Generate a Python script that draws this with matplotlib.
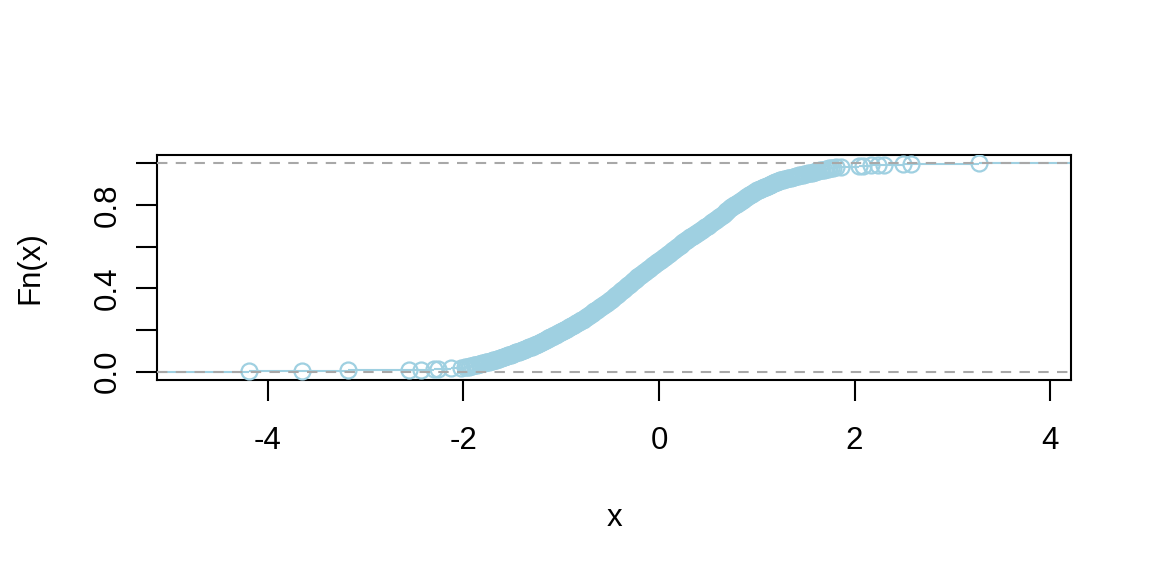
import numpy as np
import matplotlib.pyplot as plt

plt.rcParams['font.family'] = ['Liberation Sans', 'DejaVu Sans']

# sample values (sorted)
left_tail = [-4.19, -3.65, -3.18, -2.56, -2.43, -2.30, -2.26, -2.13, -2.02, -1.98]

lower_body = [
    -1.96, -1.94, -1.93, -1.91, -1.89, -1.88, -1.86, -1.84, -1.83, -1.81,
    -1.79, -1.77, -1.76, -1.74, -1.72,
    -1.71, -1.70, -1.68, -1.67, -1.66, -1.64, -1.63, -1.62, -1.60, -1.59,
    -1.58, -1.56, -1.55, -1.54, -1.53, -1.51, -1.50,
    -1.49, -1.48, -1.47, -1.46, -1.45, -1.43, -1.42, -1.41, -1.40, -1.39,
    -1.38, -1.37, -1.36, -1.35, -1.34, -1.33, -1.32, -1.30,
    -1.29, -1.28, -1.28, -1.27, -1.26, -1.25, -1.24, -1.23, -1.22, -1.21,
    -1.21, -1.20, -1.19, -1.18, -1.17, -1.16, -1.15, -1.15, -1.14, -1.13,
    -1.12, -1.11, -1.10, -1.09, -1.08, -1.08, -1.07, -1.06, -1.05, -1.04,
    -1.03, -1.03, -1.02, -1.01, -1.00,
    -0.99, -0.99, -0.98, -0.97, -0.96, -0.96, -0.95, -0.94, -0.93, -0.93,
    -0.92, -0.91, -0.90, -0.90, -0.89, -0.88, -0.88, -0.87, -0.86, -0.85,
    -0.85, -0.84, -0.83, -0.82, -0.82, -0.81, -0.80, -0.80, -0.79, -0.78,
    -0.77, -0.77, -0.76, -0.76, -0.75, -0.74, -0.74, -0.73, -0.72, -0.72,
    -0.71, -0.71, -0.70, -0.69, -0.69, -0.68, -0.67, -0.67, -0.66, -0.66,
    -0.65, -0.64, -0.64, -0.63, -0.62, -0.62, -0.61, -0.61, -0.60, -0.59,
    -0.59, -0.58, -0.57, -0.57, -0.56, -0.56, -0.55, -0.54, -0.54, -0.53,
    -0.52, -0.52, -0.51, -0.51, -0.50,
]

middle_body = [
    -0.50, -0.49, -0.49, -0.48, -0.48, -0.47, -0.47, -0.46, -0.46, -0.45,
    -0.45, -0.44, -0.44, -0.43, -0.43, -0.42, -0.42, -0.41, -0.41, -0.40,
    -0.40, -0.39, -0.39, -0.38, -0.38, -0.37, -0.37, -0.36, -0.36, -0.35,
    -0.35, -0.34, -0.34, -0.33, -0.33, -0.32, -0.32, -0.31, -0.31, -0.30,
    -0.30, -0.29, -0.29, -0.28, -0.28, -0.27, -0.27, -0.26, -0.26, -0.25,
    -0.24, -0.24, -0.23, -0.23, -0.22, -0.22, -0.21, -0.21, -0.20, -0.19,
    -0.19, -0.18, -0.18, -0.17, -0.17, -0.16, -0.16, -0.15, -0.14, -0.14,
    -0.13, -0.13, -0.12, -0.12, -0.11, -0.11, -0.10, -0.09, -0.09, -0.08,
    -0.08, -0.07, -0.07, -0.06, -0.06, -0.05, -0.04, -0.04, -0.03, -0.03,
    -0.02, -0.02, -0.01, -0.01, 0.00,
    0.01, 0.01, 0.02, 0.02, 0.03, 0.03, 0.04, 0.04, 0.05, 0.06,
    0.06, 0.07, 0.07, 0.08, 0.08, 0.09, 0.09, 0.10, 0.11, 0.11,
    0.12, 0.12, 0.13, 0.13, 0.14, 0.14, 0.15, 0.16, 0.16, 0.17,
    0.17, 0.18, 0.18, 0.19, 0.19, 0.20, 0.21, 0.21, 0.22, 0.22,
    0.23, 0.23, 0.24, 0.24, 0.25,
    0.26, 0.26, 0.27, 0.27, 0.28, 0.29, 0.29, 0.30, 0.31, 0.31,
    0.32, 0.32, 0.33, 0.34, 0.34, 0.35, 0.36, 0.36, 0.37, 0.37,
    0.38, 0.39, 0.39, 0.40, 0.41, 0.41, 0.42, 0.42, 0.43, 0.44,
    0.44, 0.45, 0.46, 0.46, 0.47, 0.47, 0.48, 0.49, 0.49, 0.50,
]

upper_body = [
    0.51, 0.51, 0.52, 0.52, 0.53, 0.53, 0.54, 0.54, 0.55, 0.56,
    0.56, 0.57, 0.57, 0.58, 0.58, 0.59, 0.59, 0.60, 0.61, 0.61,
    0.62, 0.62, 0.63, 0.63, 0.64, 0.64, 0.65, 0.66, 0.66, 0.67,
    0.67, 0.68, 0.68, 0.69, 0.69, 0.70, 0.71, 0.71, 0.72, 0.72,
    0.73, 0.73, 0.74, 0.74, 0.75,
    0.76, 0.76, 0.77, 0.77, 0.78, 0.79, 0.79, 0.80, 0.81, 0.81,
    0.82, 0.82, 0.83, 0.84, 0.84, 0.85, 0.86, 0.86, 0.87, 0.87,
    0.88, 0.89, 0.89, 0.90, 0.91, 0.91, 0.92, 0.92, 0.93, 0.94,
    0.94, 0.95, 0.96, 0.96, 0.97, 0.97, 0.98, 0.99, 0.99, 1.00,
    1.01, 1.02, 1.03, 1.04, 1.05, 1.06, 1.07, 1.08, 1.09, 1.10,
    1.11, 1.12, 1.13, 1.14, 1.15, 1.16, 1.17, 1.18, 1.19, 1.20,
    1.21, 1.22, 1.23, 1.24, 1.25,
    1.27, 1.28, 1.30, 1.32, 1.33, 1.35, 1.37, 1.38, 1.40, 1.42,
    1.43, 1.45, 1.47, 1.48, 1.50,
    1.52, 1.54, 1.56, 1.58, 1.60, 1.61, 1.63, 1.65, 1.67, 1.69,
    1.71, 1.73, 1.74, 1.76, 1.78,
]

right_tail = [1.81, 1.86, 2.05, 2.09, 2.17, 2.24, 2.30, 2.50, 2.58, 3.27]

x_ticks = [-4, -2, 0, 2, 4]
y_ticks = [0.0, 0.2, 0.4, 0.6, 0.8, 1.0]
y_labels = ['0.0', '', '0.4', '', '0.8', '']

blue = '#9fd0e1'
grey = '#a8a8a8'

x = np.sort(np.array(left_tail + lower_body + middle_body + upper_body + right_tail))
knots, counts = np.unique(x, return_counts=True)
fn = np.cumsum(counts) / len(x)

# range as plot.stepfun does it
dr = max(0.08 * (knots[-1] - knots[0]), np.median(np.diff(knots)))
xlim = (knots[0] - dr, knots[-1] + dr)
ext = 0.04 * (xlim[1] - xlim[0])

fig = plt.figure(figsize=(11.52, 5.76), dpi=100)
ax = fig.add_axes([0.1363, 0.3403, 0.7934, 0.3906])

ti = np.concatenate([[xlim[0] - dr], knots, [xlim[1] + dr]])
steps = np.concatenate([[0.0], fn])
ax.hlines(steps, ti[:-1], ti[1:], color=blue, lw=1.5, zorder=2)
ax.plot(knots, fn, 'o', mfc='none', mec=blue, ms=11.5, mew=1.6, zorder=3)
for h in (0, 1):
    ax.axhline(h, color=grey, lw=1.5, linestyle=(0, (5, 4)), zorder=4)

ax.set_xlim(xlim[0] - ext, xlim[1] + ext)
ax.set_ylim(-0.04, 1.04)
ax.set_xticks(x_ticks)
ax.set_xticklabels([str(t) for t in x_ticks])
ax.set_yticks(y_ticks)
ax.set_yticklabels(y_labels, rotation=90, va='center')
ax.tick_params(axis='both', length=15, width=1.5, labelsize=22.5, colors='black')
ax.tick_params(axis='x', pad=18)
ax.tick_params(axis='y', pad=10)
for s in ax.spines.values():
    s.set_linewidth(1.5)

fig.text(614 / 1152, 1 - 518 / 576, 'x', ha='center', va='center', fontsize=22.5)
fig.text(30 / 1152, 1 - 268 / 576, 'Fn(x)', ha='center', va='center',
         rotation=90, fontsize=22.5)

fig.savefig('out.png', dpi=100, facecolor='white')
